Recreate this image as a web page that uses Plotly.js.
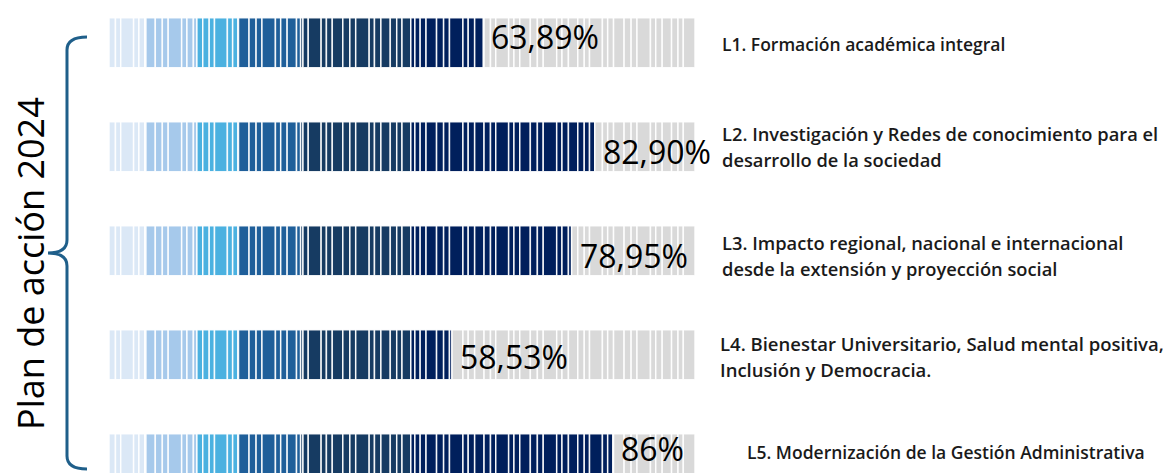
<!DOCTYPE html>
<html>
<head>
<meta charset="utf-8">
<script src="https://cdn.plot.ly/plotly-3.0.1.min.js"></script>
<style>html,body{margin:0;padding:0;background:#fff;}#chart{width:1169px;height:473px;}</style>
</head>
<body>
<div id="chart"></div>
<script>
// ---------- DATA ----------
const categories = ['L1', 'L2', 'L3', 'L4', 'L5'];
const values = [63.89, 82.90, 78.95, 58.53, 86];
const valueLabels = ['63,89%', '82,90%', '78,95%', '58,53%', '86%'];
const lineLabels = [
  ['L1. Formación académica integral'],
  ['L2. Investigación y Redes de conocimiento para el', 'desarrollo de la sociedad'],
  ['L3. Impacto regional, nacional e internacional', 'desde la extensión y proyección social'],
  ['L4. Bienestar Universitario, Salud mental positiva,', 'Inclusión y Democracia.'],
  ['L5. Modernización de la Gestión Administrativa']
];
const groupTitle = 'Plan de acción 2024';

// ---------- STYLE ----------
const W = 1169, H = 473;
const bandStops = [6.3, 15, 22, 32.7, 51.5, Infinity];
const bandColors = ['#dbe8f6', '#a6c9eb', '#4bb1e0', '#1f5f9a', '#163b62', '#001f5c'];
const restColor = '#d9d9d9';
const stripePattern = [1.1, 0.9, 2.2, 0.9, 1.0, 1.8, 1.2, 1.0, 2.3, 0.9, 1.1, 1.6];
const labelX = [720, 720, 720, 718, 745];
const labelY = [44, 133, 242, 343, 452];
const labelSize = [17.5, 18.3, 18.3, 18.5, 17.5];
const lineGap = 26;
const valueShift = [6, -5, -5, -2, 10];

function bandColor(p) {
  for (let k = 0; k < bandStops.length; k++) if (p < bandStops[k] - 1e-9) return bandColors[k];
  return bandColors[bandColors.length - 1];
}

const traces = [];
categories.forEach((cat, i) => {
  const v = values[i];
  let edges = [0];
  let pos = 0, k = 0;
  while (pos < 100) { pos += stripePattern[k % stripePattern.length]; k++; edges.push(Math.min(pos, 100)); }
  bandStops.forEach(s => { if (s < 100) edges.push(s); });
  edges.push(v);
  edges = Array.from(new Set(edges.map(e => Math.round(e * 1000) / 1000))).sort((a, b) => a - b);
  const xs = [], bases = [], ys = [], cols = [];
  for (let j = 0; j < edges.length - 1; j++) {
    const a = edges[j], b = edges[j + 1];
    if (b - a < 0.05) continue;
    xs.push(b - a); bases.push(a); ys.push(i);
    cols.push(a < v ? bandColor(a) : restColor);
  }
  traces.push({
    type: 'bar', orientation: 'h', x: xs, base: bases, y: ys, width: 0.48,
    marker: { color: cols, line: { color: 'rgba(255,255,255,0.9)', width: 1.5 } },
    hoverinfo: 'skip', showlegend: false, name: cat
  });
});

const x0px = 109, pxPer = (695 - 109) / 100;
const xRange = [-x0px / pxPer, (W - x0px) / pxPer];
const c0 = 42.8, step = 104;
const yRange = [(H - c0) / step, -c0 / step];

const px = x => x / W;
const py = y => 1 - y / H;

const annotations = [];
values.forEach((v, i) => {
  annotations.push({
    x: v, y: i, xref: 'x', yref: 'y', xanchor: 'left', yanchor: 'middle', xshift: 6, yshift: valueShift[i],
    text: valueLabels[i], showarrow: false,
    font: { family: 'Open Sans', size: 32, color: '#000', weight: 500 }
  });
});
lineLabels.forEach((lines, i) => {
  lines.forEach((t, j) => {
    annotations.push({
      x: px(labelX[i]), y: py(labelY[i] + j * lineGap), xref: 'paper', yref: 'paper',
      xanchor: 'left', yanchor: 'middle', text: t, showarrow: false,
      font: { family: 'Open Sans', size: labelSize[i], color: '#1a1a1a', weight: 600 }
    });
  });
});
annotations.push({
  x: px(30), y: py(264), xref: 'paper', yref: 'paper', xanchor: 'center', yanchor: 'middle',
  text: groupTitle, textangle: -90, showarrow: false,
  font: { family: 'Open Sans', size: 36, color: '#000', weight: 500 }
});

function P(x, y) { return px(x).toFixed(5) + ',' + py(y).toFixed(5); }
const bracePath = 'M' + P(87, 37) + ' Q' + P(67, 37) + ' ' + P(67, 50) +
  ' L' + P(67, 240) + ' Q' + P(67, 253) + ' ' + P(48, 253) +
  ' Q' + P(67, 253) + ' ' + P(67, 266) + ' L' + P(67, 456) +
  ' Q' + P(67, 469) + ' ' + P(87, 469);

const layout = {
  width: W, height: H,
  margin: { l: 0, r: 0, t: 0, b: 0, pad: 0 },
  paper_bgcolor: '#fff', plot_bgcolor: '#fff',
  barmode: 'overlay',
  xaxis: { range: xRange, visible: false, fixedrange: true },
  yaxis: { range: yRange, visible: false, fixedrange: true },
  annotations: annotations,
  shapes: [{ type: 'path', xref: 'paper', yref: 'paper', path: bracePath,
    line: { color: '#1f5f8a', width: 3 } }],
  showlegend: false
};

Plotly.newPlot('chart', traces, layout, { displayModeBar: false, staticPlot: true });
</script>
</body>
</html>
